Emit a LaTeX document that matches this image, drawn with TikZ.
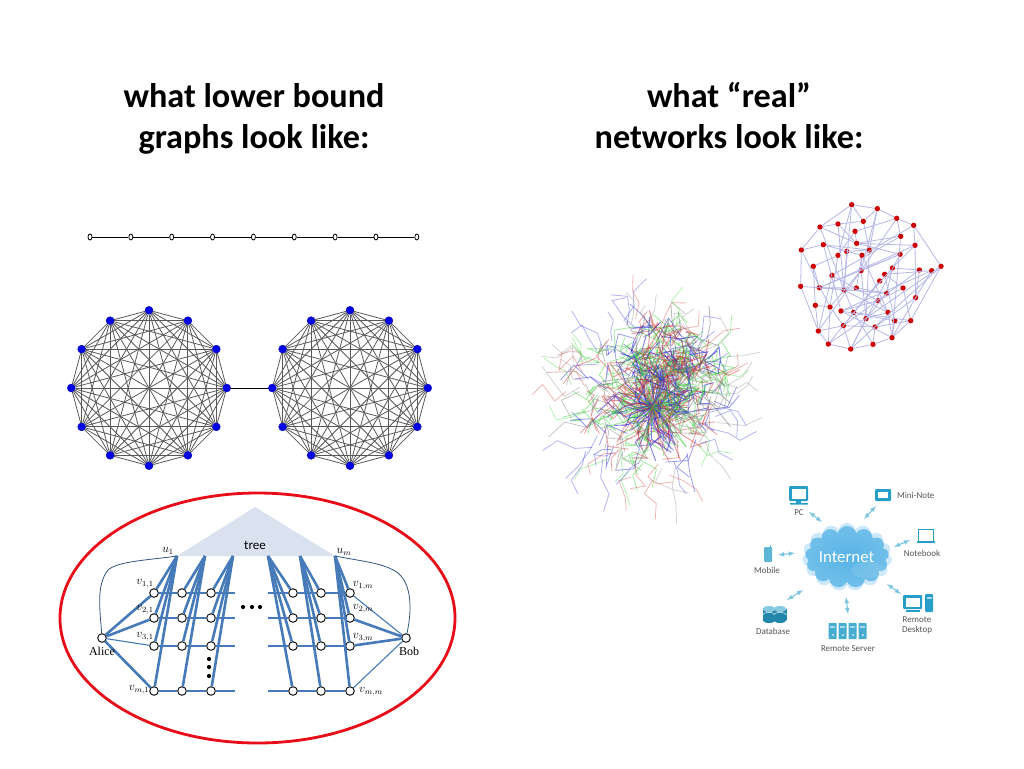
\documentclass[tikz,border=0pt]{standalone}
\usepackage{fontspec}
\setmainfont{Carlito}
\usepackage{amsmath}
\usetikzlibrary{shapes,shapes.symbols,arrows,positioning}
\definecolor{treefill}{RGB}{218, 226, 240}
\definecolor{linkblue}{RGB}{70, 122, 185}
\definecolor{icon}{RGB}{38, 158, 200}
\definecolor{skyblue}{RGB}{88, 180, 230}
\definecolor{ringred}{RGB}{232, 12, 24}
\definecolor{labelgray}{RGB}{85, 85, 85}
\tikzstyle{title} = [font=\bfseries\fontsize{34.2}{41}\selectfont, align=center, text=black]
\tikzstyle{pathnode} = [ellipse, draw=black, line width=.8pt, fill=white, inner sep=0pt, minimum width=4pt, minimum height=6pt]
\tikzstyle{bluenode} = [circle, fill=blue!90!black, draw=blue!70!black, inner sep=0pt, minimum size=8pt]
\tikzstyle{clique} = [draw=black!65, line width=.8pt]
\tikzstyle{rednode} = [circle, fill=red!80!black, inner sep=0pt, minimum size=5.4pt]
\tikzstyle{redlink} = [draw=blue!50!gray!38, line width=.8pt]
\tikzstyle{gridnode} = [circle, draw=black, line width=.9pt, fill=white, inner sep=0pt, minimum size=8.6pt]
\tikzstyle{thicklink} = [draw=linkblue, line width=2.6pt]
\tikzstyle{thinlink} = [draw=linkblue, line width=1.1pt]
\tikzstyle{sidelink} = [draw=linkblue!70!black, line width=.8pt]
\tikzstyle{serif} = [font=\fontspec{Liberation Serif}\fontsize{12}{12}\selectfont, inner sep=0pt]
\tikzstyle{dotnode} = [circle, fill=black, inner sep=0pt, minimum size=4.2pt]
\tikzstyle{iconlabel} = [font=\fontsize{9}{10}\selectfont, text=labelgray, align=center, inner sep=0pt]
\tikzstyle{tedge} = [draw=icon!60, line width=1.1pt, >=latex, <->]
\tikzstyle{hair0} = [draw=red!65!gray, opacity=.5]
\tikzstyle{hair1} = [draw=green!65!gray, opacity=.45]
\tikzstyle{hair2} = [draw=blue!70!gray, opacity=.6]
\tikzstyle{hair3} = [draw=gray, opacity=.55]
\begin{document}
\begin{tikzpicture}[x=1pt, y=-1pt]
\useasboundingbox (0,0) rectangle (1024,768);

% titles =============================
\node[title] (lefttitle) at (254,120) {\strut what lower bound\\\strut graphs look like:};
\node[title] (righttitle) at (729,120) {\strut what “real”\\\strut networks look like:};

% path graph
\foreach \i in {0,...,8}
  \node[pathnode] (p\i) at ({90+\i*40.85},237) {};
\foreach \i [remember=\i as \last (initially 0)] in {1,...,8}
  \draw[black, line width=.9pt] (p\last) -- (p\i);

% two cliques
\foreach \i in {0,...,11} {
  \node[bluenode] (a\i) at ({149+77.7*cos(\i*30)},{388+77.7*sin(\i*30)}) {};
  \node[bluenode] (b\i) at ({350+77.7*cos(\i*30)},{388+77.7*sin(\i*30)}) {};
}
\foreach \i in {0,...,10} {
  \pgfmathtruncatemacro\first{\i+1}
  \foreach \j in {\first,...,11} {
    \path[clique] (a\i) -- (a\j);
    \path[clique] (b\i) -- (b\j);
  }
}
\draw[black, line width=.9pt] (a0) -- (b6);

% tree and grid =============================
\draw[ringred, line width=2.8pt] (257.5,618) ellipse (197.5 and 125);
\fill[treefill] (255,507) -- (335,556) -- (177,556) -- cycle;
\node[font=\fontsize{13}{13}\selectfont, inner sep=0pt] (tree) at (255,545) {tree};
\foreach \tx [count=\c] in {177,205,233,268,300,335}
  \coordinate (t\c) at (\tx,556);
\foreach \cx [count=\c] in {154,182,211,293,321,350}
  \foreach \ry [count=\r] in {593,618,646,691}
    \node[gridnode] (n\c\r) at (\cx,\ry) {};
\node[gridnode] (alice) at (102,638) {};
\node[gridnode] (bob) at (406,638) {};

% row ends
\foreach \ry [count=\r] in {593,618,646,691} {
  \coordinate (le\r) at (235,\ry);
  \coordinate (rs\r) at (268,\ry);
  \path[thinlink] (n1\r) -- (n2\r);
  \path[thinlink] (n2\r) -- (n3\r);
  \path[thinlink] (n3\r) -- (le\r);
  \path[thinlink] (rs\r) -- (n4\r);
  \path[thinlink] (n4\r) -- (n5\r);
  \path[thinlink] (n5\r) -- (n6\r);
}
% columns
\foreach \c in {1,...,6}
  \foreach \r in {1,...,4}
    \path[thicklink] (t\c) -- (n\c\r);

% alice and bob
\path[thicklink] (alice) -- (n11);
\path[thicklink] (alice) -- (n12);
\path[thinlink] (alice) -- (n13);
\path[thicklink] (alice) -- (n14);
\path[thinlink] (bob) -- (n61);
\path[thicklink] (bob) -- (n62);
\path[thicklink] (bob) -- (n63);
\path[thinlink] (bob) -- (n64);
\draw[sidelink] (alice) .. controls (100,610) and (96,585) .. (108,570) .. controls (118,561) and (150,560) .. (t1);
\draw[sidelink] (bob) .. controls (412,610) and (412,585) .. (398,573) .. controls (385,563) and (360,561) .. (t6);

% grid labels
\node[serif] (u1) at (168,551) {$u_1$};
\node[serif] (um) at (344,552) {$u_m$};
\node[serif] (v11) at (145,584) {$v_{1,1}$};
\node[serif] (v21) at (145,610) {$v_{2,1}$};
\node[serif] (v31) at (145,637) {$v_{3,1}$};
\node[serif] (vm1) at (139,690) {$v_{m,1}$};
\node[serif] (v1m) at (363,586) {$v_{1,m}$};
\node[serif] (v2m) at (363,609) {$v_{2,m}$};
\node[serif] (v3m) at (363,638) {$v_{3,m}$};
\node[serif] (vmm) at (371,692) {$v_{m,m}$};
\node[serif, below=4pt of alice] (alicetext) {Alice};
\node[serif, below=4pt of bob, xshift=3pt] (bobtext) {Bob};
\foreach \x [count=\i] in {243,252,260}
  \node[dotnode] (hd\i) at (\x,607) {};
\foreach \y [count=\i] in {659,667,676}
  \node[dotnode] (vd\i) at (209,\y) {};

% red network =============================
\foreach \i/\x/\y in {1/215/44,2/292/56,3/350/85,4/401/106,5/120/111,6/174/102,7/250/94,8/225/124,9/362/139,10/405/166,11/64/180,12/130/164,13/230/160,14/268/180,15/200/184,16/174/196,17/246/196,18/360/193,19/483/229,20/455/242,21/418/240,22/337/234,23/100/229,24/243/242,25/314/253,26/156/256,27/299/273,28/62/289,29/118/293,30/192/300,31/229/294,32/369/294,33/320/309,34/407/323,35/294/332,36/106/346,37/150/351,38/183/363,39/221/367,40/324/367,41/258/386,42/344/392,43/392/392,44/285/411,45/190/407,46/115/423,47/336/443,48/145/462,49/279/463,50/212/477}
  \node[rednode] (r\i) at ({780+\x/3},{190+\y/3}) {};
\foreach \a/\b in {1/2,2/3,3/4,4/19,1/5,5/11,11/28,28/46,46/48,48/50,50/49,49/47,47/43,43/19,4/10,10/34,11/12,5/6,6/7,1/7,7/14,2/7,5/13,6/13,3/9,9/13,13/18,10/13,10/22,4/17,12/17,12/14,8/16,8/3,1/16,1/30,2/24,2/14,3/24,9/26,18/24,18/29,10/29,16/23,15/14,15/30,17/24,17/31,23/29,23/36,11/37,12/38,5/30,26/46,26/35,24/46,24/37,22/21,22/33,22/39,25/20,25/32,27/48,27/45,21/45,20/47,19/48,19/50,21/34,20/38,34/44,32/43,32/35,33/41,33/29,31/33,28/33,29/31,30/40,30/39,35/40,35/38,40/47,40/41,42/47,42/38,42/25,43/44,44/49,44/45,45/50,45/46,39/49,39/43,36/37,36/46,37/48,37/45,38/47,41/50,14/41,24/41,17/40,18/50,9/47,8/13,16/37,6/30}
  \path[redlink] (r\a) -- (r\b);

% tangled network =============================
\pgfmathsetseed{1789}
\coordinate (core) at (653,407);
\coordinate (blob) at (674,368);
\coordinate (mid) at (648,398);
% rays out of the middle
\foreach \i in {1,...,130} {
  \pgfmathsetmacro\ang{360*rnd}
  \pgfmathsetmacro\devA{\ang+90*rnd-45}
  \pgfmathsetmacro\devB{\ang+160*rnd-80}
  \pgfmathtruncatemacro\hue{int(4*rnd)}
  \pgfmathsetmacro\lenA{6+12*rnd}
  \pgfmathsetmacro\lenB{8+18*rnd}
  \draw[hair\hue, line width=.9pt] (core) -- ++(\ang:\lenA) -- ++(\devA:\lenB) -- ++(\devB:\lenB);
}
% upper blob
\foreach \i in {1,...,240} {
  \pgfmathsetmacro\ang{360*rnd}
  \pgfmathsetmacro\rad{50*rnd}
  \pgfmathsetmacro\devA{360*rnd}
  \pgfmathsetmacro\devB{360*rnd}
  \pgfmathtruncatemacro\hue{int(4*rnd)}
  \pgfmathsetmacro\lenA{9+13*rnd}
  \draw[hair\hue, line width=.9pt] (blob) ++(\ang:\rad) -- ++(\devA:\lenA) -- ++(\devB:\lenA);
}
% ring around both
\foreach \i in {1,...,200} {
  \pgfmathsetmacro\ang{360*rnd}
  \pgfmathsetmacro\rad{22+48*rnd}
  \pgfmathsetmacro\devA{360*rnd}
  \pgfmathsetmacro\devB{360*rnd}
  \pgfmathtruncatemacro\hue{int(4*rnd)}
  \pgfmathsetmacro\lenA{9+14*rnd}
  \draw[hair\hue, line width=.8pt, opacity=.45] (mid) ++(\ang:\rad) -- ++(\devA:\lenA) -- ++(\devB:\lenA);
}
% loose branches on the outside
\foreach \i in {1,...,70} {
  \pgfmathsetmacro\ang{360*rnd}
  \pgfmathsetmacro\rad{58+25*rnd}
  \pgfmathsetmacro\devA{\ang+130*rnd-65}
  \pgfmathsetmacro\devB{\ang+140*rnd-70}
  \pgfmathsetmacro\devC{\ang+180*rnd-90}
  \pgfmathtruncatemacro\hue{int(4*rnd)}
  \pgfmathsetmacro\lenA{9+10*rnd}
  \pgfmathsetmacro\lenB{9+12*rnd}
  \draw[hair\hue, line width=.8pt, opacity=.35] (mid) ++(\ang:\rad) -- ++(\devA:\lenA) -- ++(\devB:\lenB) -- ++(\devC:\lenA);
}

% internet =============================
\node[cloud, cloud puffs=15, aspect=1.35, fill=skyblue!30, minimum width=90pt, minimum height=68pt, inner sep=0pt] (cloudsoft) at (847,557) {};
\node[cloud, cloud puffs=13, aspect=1.35, inner color=skyblue, outer color=skyblue!85!white, minimum width=84pt, minimum height=62pt, inner sep=0pt] (cloudnet) at (847,557) {};
\fill[white, opacity=.09] (868,570) ellipse (17 and 8);
\node[text=white, font=\fontsize{16.8}{17}\selectfont, inner sep=0pt] (internet) at (846.5,557) {Internet};

% pc
\fill[icon, rounded corners=1pt] (789,486) rectangle (808,501);
\fill[white] (791.5,489) rectangle (805.5,498.5);
\fill[icon] (796,501) rectangle (801,503) (790,503) rectangle (808,504.5);
\node[iconlabel] (pc) at (799,513) {PC};
% mini note
\fill[icon, rounded corners=1pt] (875,489) rectangle (891,501);
\fill[white] (878,491.5) rectangle (888,497.5);
\node[iconlabel, anchor=west] (mininote) at (897,495) {Mini-Note};
% notebook
\draw[icon, line width=.5pt, fill=white] (918,529.5) rectangle (933,541);
\fill[icon] (916.5,541) rectangle (935,543);
\node[iconlabel] (notebook) at (922,553) {Notebook};
% mobile
\fill[icon!75, rounded corners=1pt] (764,547) rectangle (772,562);
\draw[icon!75, line width=.6pt] (770.5,547) -- (770.5,544.5);
\node[iconlabel] (mobile) at (767,570) {Mobile};
% database
\foreach \x in {769,780} {
  \fill[icon!85!black] (\x-6.5,609) rectangle (\x+6.5,620);
  \fill[icon!85!black] (\x,620) ellipse (6.5 and 3);
  \fill[icon!55] (\x,609) ellipse (6.5 and 3);
  \draw[white, line width=.5pt] (\x-6.5,615) arc (180:360:6.5 and 2.5);
}
\node[iconlabel] (database) at (773,631) {Database};
% remote server
\foreach \x in {828.5,838.5,848.5,858.5} {
  \fill[icon!85, rounded corners=.6pt] (\x,623) rectangle (\x+8,639);
  \fill[white, opacity=.55] (\x+1.5,626) rectangle (\x+6.5,628);
  \fill[white, opacity=.55] (\x+3,634) rectangle (\x+5,636);
}
\node[iconlabel] (server) at (848,649) {Remote Server};
% remote desktop
\fill[icon, rounded corners=1pt] (903,595) rectangle (922,609);
\fill[white] (905.5,597.5) rectangle (919.5,606.5);
\fill[icon] (906,610) rectangle (920,612);
\fill[icon, rounded corners=1pt] (925,594) rectangle (933,612);
\fill[white, opacity=.6] (926.5,597) rectangle (931.5,599);
\node[iconlabel] (desktop) at (917,625) {Remote\\Desktop};

% arrows
\coordinate (pcA) at (809,512);
\coordinate (pcB) at (822,522);
\coordinate (noteA) at (876,506);
\coordinate (noteB) at (864,519);
\coordinate (bookA) at (910,540);
\coordinate (bookB) at (894,547);
\coordinate (mobA) at (778,555);
\coordinate (mobB) at (795,553);
\coordinate (dbA) at (787,600);
\coordinate (dbB) at (803,590);
\coordinate (srvA) at (848,614);
\coordinate (srvB) at (846,597);
\coordinate (deskA) at (901,594);
\coordinate (deskB) at (887,584);
\path[tedge] (pcA) -- (pcB);
\path[tedge] (noteA) -- (noteB);
\path[tedge] (bookA) -- (bookB);
\path[tedge] (mobA) -- (mobB);
\path[tedge] (dbA) -- (dbB);
\path[tedge] (srvA) -- (srvB);
\path[tedge] (deskA) -- (deskB);

\end{tikzpicture}
\end{document}
